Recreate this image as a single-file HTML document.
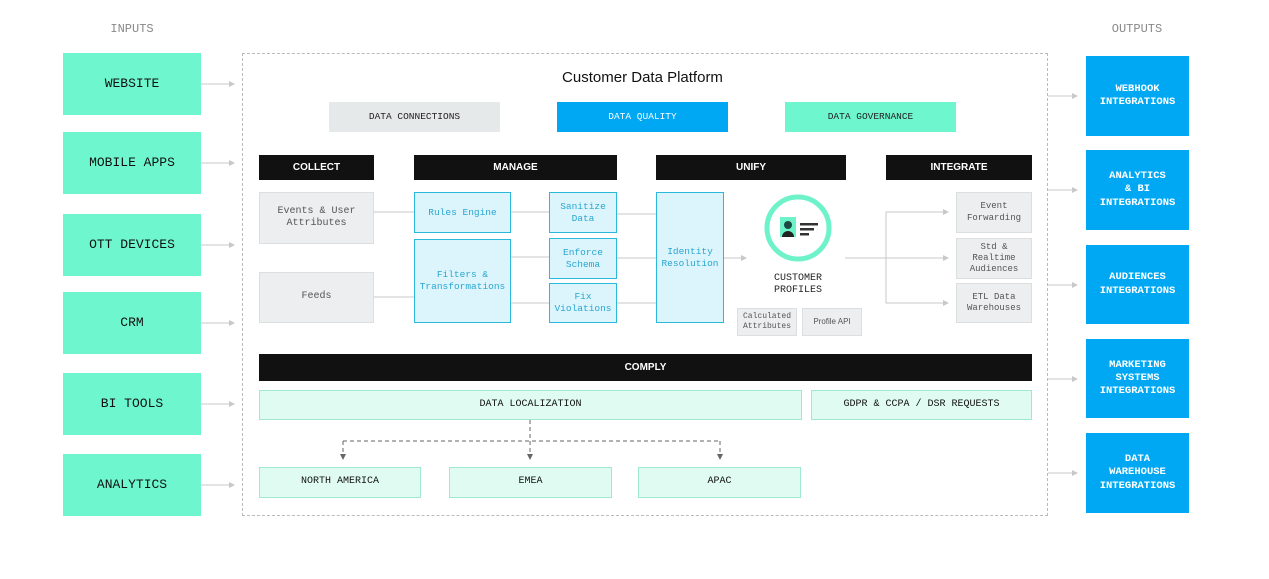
<!DOCTYPE html>
<html><head><meta charset="utf-8"><style>
*{margin:0;padding:0;box-sizing:border-box}
body{width:1269px;height:579px;background:#fff;position:relative;overflow:hidden;font-family:"Liberation Mono",monospace}
.b{position:absolute;display:flex;align-items:center;justify-content:center;text-align:center;line-height:1.25}
.in{background:#6ef7cf;color:#111;font-size:13px;left:63px;width:138px;height:62px}
.out{background:#00a8f4;color:#fff;font-size:10.5px;font-weight:bold;left:1086px;width:103px}
.hd{position:absolute;display:block;text-align:center;background:#111;color:#fff;font-family:"Liberation Sans",sans-serif;font-weight:bold;font-size:10px;top:155px;height:25px;line-height:25px}
.gr{background:#eceeef;border:1px solid #dcdfe0;color:#555;font-size:10px}
.bl{background:#dcf5fd;border:1.5px solid #2ab8dc;color:#2aa6d0;font-size:9.5px}
.mt{position:absolute;display:block;text-align:center;background:#e0fcf2;border:1.5px solid #9fe8d2;color:#111;font-size:10px}
</style></head><body>
<div class="b" style="left:92px;top:20px;width:80px;height:18px;color:#888;font-size:12px">INPUTS</div>
<div class="b" style="left:1097px;top:20px;width:80px;height:18px;color:#888;font-size:12px">OUTPUTS</div>
<div class="b in" style="top:53px">WEBSITE</div>
<div class="b in" style="top:132px">MOBILE APPS</div>
<div class="b in" style="top:214px">OTT DEVICES</div>
<div class="b in" style="top:292px">CRM</div>
<div class="b in" style="top:373px">BI TOOLS</div>
<div class="b in" style="top:454px">ANALYTICS</div>
<div class="b out" style="top:56px;height:80px">WEBHOOK<br>INTEGRATIONS</div>
<div class="b out" style="top:150px;height:80px">ANALYTICS<br>&amp; BI<br>INTEGRATIONS</div>
<div class="b out" style="top:245px;height:79px">AUDIENCES<br>INTEGRATIONS</div>
<div class="b out" style="top:339px;height:79px">MARKETING<br>SYSTEMS<br>INTEGRATIONS</div>
<div class="b out" style="top:433px;height:80px">DATA<br>WAREHOUSE<br>INTEGRATIONS</div>
<div style="position:absolute;left:242px;top:53px;width:806px;height:463px;border:1px dashed #bbb"></div>
<svg style="position:absolute;left:0;top:0" width="1269" height="579">
<defs><marker id="a" markerWidth="6" markerHeight="6" refX="5" refY="3" orient="auto"><path d="M0,0L6,3L0,6z" fill="#c8c8c8"/></marker>
<marker id="d" markerWidth="6" markerHeight="6" refX="5" refY="3" orient="auto"><path d="M0,0L6,3L0,6z" fill="#666"/></marker></defs>
<g stroke="#c8c8c8" stroke-width="1" fill="none" marker-end="url(#a)">
<line x1="201" y1="84" x2="234" y2="84"/><line x1="201" y1="163" x2="234" y2="163"/><line x1="201" y1="245" x2="234" y2="245"/>
<line x1="201" y1="323" x2="234" y2="323"/><line x1="201" y1="404" x2="234" y2="404"/><line x1="201" y1="485" x2="234" y2="485"/>
<line x1="1048" y1="96" x2="1077" y2="96"/><line x1="1048" y1="190" x2="1077" y2="190"/><line x1="1048" y1="285" x2="1077" y2="285"/>
<line x1="1048" y1="379" x2="1077" y2="379"/><line x1="1048" y1="473" x2="1077" y2="473"/>
<line x1="723" y1="258" x2="746" y2="258"/>
<line x1="845" y1="258" x2="948" y2="258"/>
<path d="M886 258V212H948"/><path d="M886 258V303H948"/>
</g>
<g stroke="#c8c8c8" stroke-width="1" fill="none">
<path d="M373 212H414M373 297H414M510 212H549M510 257H549M510 303H549M616 214H656M616 258H656M616 303H656"/>
</g>
<g stroke="#666" stroke-width="1" fill="none" stroke-dasharray="4,3">
<path d="M530 420V441M343 441H720"/>
</g>
<g stroke="#666" stroke-width="1" fill="none" stroke-dasharray="4,3" marker-end="url(#d)">
<line x1="343" y1="441" x2="343" y2="459"/><line x1="530" y1="441" x2="530" y2="459"/><line x1="720" y1="441" x2="720" y2="459"/>
</g>
<circle cx="798" cy="228" r="31" fill="#fff" stroke="#6ef2c9" stroke-width="5"/>
<rect x="780" y="217" width="16" height="20" fill="#6ef2c9"/>
<circle cx="788" cy="225" r="4" fill="#1b4a44"/>
<path d="M782 237a6 6 0 0 1 12 0z" fill="#222"/>
<rect x="800" y="223" width="18" height="2.5" fill="#333"/><rect x="800" y="228" width="14" height="2.5" fill="#333"/><rect x="800" y="233" width="9" height="2.5" fill="#333"/>
</svg>
<div class="b" style="left:500px;top:68px;width:285px;height:20px;font-family:'Liberation Sans',sans-serif;font-size:15px;color:#111">Customer Data Platform</div>
<div class="b" style="left:329px;top:102px;width:171px;height:30px;background:#e6e9ea;font-size:9.5px;color:#222">DATA CONNECTIONS</div>
<div class="b" style="left:557px;top:102px;width:171px;height:30px;background:#00a8f4;font-size:9.5px;color:#fff">DATA QUALITY</div>
<div class="b" style="left:785px;top:102px;width:171px;height:30px;background:#6ef7cf;font-size:9.5px;color:#222">DATA GOVERNANCE</div>
<div class="hd" style="left:259px;width:115px">COLLECT</div>
<div class="hd" style="left:414px;width:203px">MANAGE</div>
<div class="hd" style="left:656px;width:190px">UNIFY</div>
<div class="hd" style="left:886px;width:146px">INTEGRATE</div>
<div class="b gr" style="left:259px;top:192px;width:115px;height:52px">Events &amp; User<br>Attributes</div>
<div class="b gr" style="left:259px;top:272px;width:115px;height:51px">Feeds</div>
<div class="b bl" style="left:414px;top:192px;width:97px;height:41px">Rules Engine</div>
<div class="b bl" style="left:414px;top:239px;width:97px;height:84px">Filters &amp;<br>Transformations</div>
<div class="b bl" style="left:549px;top:192px;width:68px;height:41px">Sanitize<br>Data</div>
<div class="b bl" style="left:549px;top:238px;width:68px;height:41px">Enforce<br>Schema</div>
<div class="b bl" style="left:549px;top:283px;width:68px;height:40px">Fix<br>Violations</div>
<div class="b bl" style="left:656px;top:192px;width:68px;height:131px">Identity<br>Resolution</div>
<div class="b" style="left:748px;top:272px;width:100px;height:26px;font-size:10px;color:#222">CUSTOMER<br>PROFILES</div>
<div class="b gr" style="left:737px;top:308px;width:60px;height:28px;font-size:8px">Calculated<br>Attributes</div>
<div class="b gr" style="left:802px;top:308px;width:60px;height:28px;font-size:8px;font-family:'Liberation Sans',sans-serif">Profile API</div>
<div class="b gr" style="left:956px;top:192px;width:76px;height:41px;font-size:9px">Event<br>Forwarding</div>
<div class="b gr" style="left:956px;top:238px;width:76px;height:41px;font-size:9px">Std &amp;<br>Realtime<br>Audiences</div>
<div class="b gr" style="left:956px;top:283px;width:76px;height:40px;font-size:9px">ETL Data<br>Warehouses</div>
<div class="hd" style="left:259px;top:354px;width:773px;height:27px;line-height:27px">COMPLY</div>
<div class="mt" style="left:259px;top:390px;width:543px;height:30px;line-height:27px">DATA LOCALIZATION</div>
<div class="mt" style="left:811px;top:390px;width:221px;height:30px;line-height:27px">GDPR &amp; CCPA / DSR REQUESTS</div>
<div class="mt" style="left:259px;top:467px;width:162px;height:31px;line-height:28px">NORTH AMERICA</div>
<div class="mt" style="left:449px;top:467px;width:163px;height:31px;line-height:28px">EMEA</div>
<div class="mt" style="left:638px;top:467px;width:163px;height:31px;line-height:28px">APAC</div>
</body></html>
